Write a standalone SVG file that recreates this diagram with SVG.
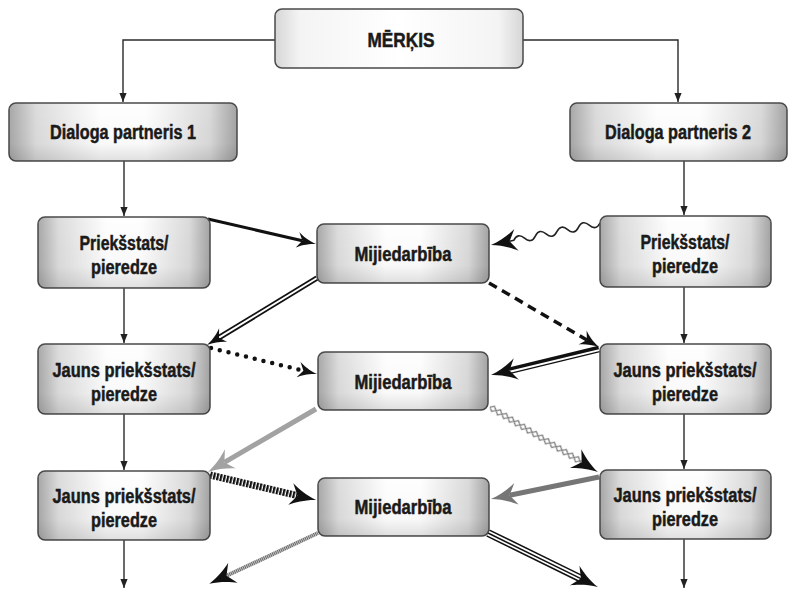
<svg xmlns="http://www.w3.org/2000/svg" width="794" height="589" viewBox="0 0 794 589">
  <defs>
    <linearGradient id="boxShade" x1="0" y1="0" x2="1" y2="0">
      <stop offset="0" stop-color="#a8a8a8"/>
      <stop offset="0.12" stop-color="#dcdcdc"/>
      <stop offset="0.4" stop-color="#fefefe"/>
      <stop offset="0.6" stop-color="#fefefe"/>
      <stop offset="0.88" stop-color="#dadada"/>
      <stop offset="1" stop-color="#a4a4a4"/>
    </linearGradient>
    <linearGradient id="boxDepth" x1="0" y1="0" x2="0" y2="1">
      <stop offset="0" stop-color="#000" stop-opacity="0"/>
      <stop offset="0.7" stop-color="#000" stop-opacity="0.02"/>
      <stop offset="1" stop-color="#000" stop-opacity="0.12"/>
    </linearGradient>
    <linearGradient id="goalShade" x1="0" y1="0" x2="1" y2="0">
      <stop offset="0" stop-color="#d6d6d6"/>
      <stop offset="0.1" stop-color="#f4f4f4"/>
      <stop offset="0.5" stop-color="#ffffff"/>
      <stop offset="0.9" stop-color="#f4f4f4"/>
      <stop offset="1" stop-color="#d6d6d6"/>
    </linearGradient>

    <!-- line textures -->
    <pattern id="lattice" width="7" height="8" y="-4" patternUnits="userSpaceOnUse">
      <path d="M0,4 L3.5,1 L7,4 L3.5,7 Z" fill="#fff" stroke="#7a7a7a" stroke-width="1.3"/>
    </pattern>
    <pattern id="hatch" width="3.4" height="8" patternUnits="userSpaceOnUse">
      <rect width="2.2" height="8" fill="#111"/>
    </pattern>
    <pattern id="fineHatch" width="1.9" height="6" patternUnits="userSpaceOnUse">
      <rect width="1.3" height="6" fill="#666"/>
    </pattern>

    <!-- arrowheads -->
    <marker id="barbS" markerUnits="userSpaceOnUse" orient="auto" refX="4" refY="0" markerWidth="30" markerHeight="30" overflow="visible">
      <path d="M18,0 C10,-1.5 3,-5 -1,-8 L4,0 L-1,8 C3,5 10,1.5 18,0 Z" fill="#111"/>
    </marker>
    <marker id="barbL" markerUnits="userSpaceOnUse" orient="auto" refX="5" refY="0" markerWidth="30" markerHeight="30" overflow="visible">
      <path d="M24,0 C14,-2 4,-7 -2,-11 L5,0 L-2,11 C4,7 14,2 24,0 Z" fill="#111"/>
    </marker>
    <marker id="barbGray" markerUnits="userSpaceOnUse" orient="auto" refX="5" refY="0" markerWidth="30" markerHeight="30" overflow="visible">
      <path d="M24,0 C14,-2 4,-7 -2,-11 L5,0 L-2,11 C4,7 14,2 24,0 Z" fill="#a2a2a2"/>
    </marker>
    <marker id="barbDark" markerUnits="userSpaceOnUse" orient="auto" refX="5" refY="0" markerWidth="30" markerHeight="30" overflow="visible">
      <path d="M24,0 C14,-2 4,-7 -2,-11 L5,0 L-2,11 C4,7 14,2 24,0 Z" fill="#767676"/>
    </marker>
    <marker id="tri" markerUnits="userSpaceOnUse" orient="auto" refX="0" refY="0" markerWidth="12" markerHeight="12" overflow="visible">
      <path d="M0,0 L-9,-3.6 L-9,3.6 Z" fill="#222"/>
    </marker>
  </defs>

  <style>
    .box { fill: url(#boxShade); stroke: #4a4a4a; stroke-width: 1.5; }
    .depth { fill: url(#boxDepth); stroke: none; }
    .goal { fill: url(#goalShade); stroke: #4a4a4a; stroke-width: 1.5; }
    .lbl { font-family: "Liberation Sans Narrow", "Liberation Sans", Arial, sans-serif; font-weight: bold; font-size: 20px; fill: #1a1a1a; stroke: #1a1a1a; stroke-width: 0.5; text-anchor: middle; }
    .flow { fill: none; stroke: #2a2a2a; stroke-width: 1.4; marker-end: url(#tri); }
    .tip { fill: none; stroke: none; }
  </style>

  <rect width="794" height="589" fill="#ffffff"/>

  <!-- connectors -->
  <g id="connectors">
    <!-- hierarchy / vertical flow -->
    <path class="flow" d="M275,40 H123 V102"/>
    <path class="flow" d="M523,40 H678 V102"/>
    <path class="flow" d="M124,161 V216"/>
    <path class="flow" d="M124,288 V343"/>
    <path class="flow" d="M124,414 V470"/>
    <path class="flow" d="M124,540 V588"/>
    <path class="flow" d="M684,161 V215"/>
    <path class="flow" d="M684,287 V343"/>
    <path class="flow" d="M684,414 V469"/>
    <path class="flow" d="M684,539 V588"/>

    <!-- 1: solid thick -->
    <path d="M208,219 L302.4,240.8" fill="none" stroke="#111" stroke-width="3" marker-end="url(#barbS)"/>

    <!-- 2: wavy -->
    <g transform="translate(600,223) rotate(168.59)">
      <path d="M0,0 q5.5,-7 11,0 t11,0 t11,0 t11,0 t11,0 t11,0 t11,0 t11,0 L92.2,0" fill="none" stroke="#222" stroke-width="1.6" marker-end="url(#barbL)"/>
    </g>

    <!-- 3: double line -->
    <path d="M317,278 L219,337.7" fill="none" stroke="#111" stroke-width="5.5"/>
    <path d="M317,278 L219,337.7" fill="none" stroke="#fff" stroke-width="2" marker-end="url(#barbS)"/>

    <!-- 4: dashed -->
    <path d="M489,283 L586.9,340" fill="none" stroke="#111" stroke-width="3.5" stroke-dasharray="9 6" marker-end="url(#barbS)"/>

    <!-- 5: dotted -->
    <path d="M211,348 L303.4,370.7" fill="none" stroke="#111" stroke-width="4.5" stroke-linecap="round" stroke-dasharray="0 9" marker-end="url(#barbS)"/>

    <!-- 6: thick + thin pair -->
    <path d="M598.6,347.5 L509.2,369.1" fill="none" stroke="#111" stroke-width="3.4"/>
    <path d="M599.7,351.7 L510.2,373.3" fill="none" stroke="#111" stroke-width="1.3"/>
    <path class="tip" d="M599,349 L509.5,370.6" marker-end="url(#barbL)"/>

    <!-- 7: light grey thick -->
    <path d="M316,409 L224.4,462.4" fill="none" stroke="#a2a2a2" stroke-width="5" marker-end="url(#barbGray)"/>

    <!-- 8: diamond chain -->
    <g transform="translate(490,407) rotate(31.04)">
      <rect x="0" y="-4" width="107" height="8" fill="url(#lattice)"/>
      <path class="tip" d="M0,0 H107" marker-end="url(#barbL)"/>
    </g>

    <!-- 9: black hatched band -->
    <g transform="translate(210,475) rotate(13.27)">
      <rect x="0" y="-3.5" width="90" height="7" fill="url(#hatch)"/>
      <path class="tip" d="M0,0 H90" marker-end="url(#barbL)"/>
    </g>

    <!-- 10: dark grey thick -->
    <path d="M599,477 L509.6,495.2" fill="none" stroke="#767676" stroke-width="5" marker-end="url(#barbDark)"/>

    <!-- 11: fine grey hatched -->
    <g transform="translate(318,533) rotate(154.93)">
      <rect x="0" y="-2" width="101" height="4" fill="url(#fineHatch)"/>
      <path class="tip" d="M0,0 H101" marker-end="url(#barbL)"/>
    </g>

    <!-- 12: triple line -->
    <path d="M488,533 L580.9,578.6" fill="none" stroke="#111" stroke-width="8"/>
    <path d="M488,533 L580.9,578.6" fill="none" stroke="#fff" stroke-width="5"/>
    <path d="M488,533 L580.9,578.6" fill="none" stroke="#111" stroke-width="1.5" marker-end="url(#barbL)"/>
  </g>

  <!-- nodes -->
  <g id="goal">
    <rect class="goal" x="275" y="9" width="248" height="59" rx="7"/>
    <text class="lbl" x="401" y="47" textLength="67" lengthAdjust="spacingAndGlyphs">MĒRĶIS</text>
  </g>

  <g id="partner1">
    <rect class="box" x="9" y="103" width="228" height="58" rx="7"/>
    <rect class="depth" x="9" y="103" width="228" height="58" rx="7"/>
    <text class="lbl" x="123" y="139" textLength="146" lengthAdjust="spacingAndGlyphs">Dialoga partneris 1</text>
  </g>

  <g id="partner2">
    <rect class="box" x="570" y="103" width="217" height="58" rx="7"/>
    <rect class="depth" x="570" y="103" width="217" height="58" rx="7"/>
    <text class="lbl" x="678" y="139" textLength="146" lengthAdjust="spacingAndGlyphs">Dialoga partneris 2</text>
  </g>

  <g id="view1">
    <rect class="box" x="38" y="217" width="172" height="71" rx="7"/>
    <rect class="depth" x="38" y="217" width="172" height="71" rx="7"/>
    <text class="lbl" x="124" y="250" textLength="89" lengthAdjust="spacingAndGlyphs">Priekšstats/</text>
    <text class="lbl" x="124" y="274" textLength="66" lengthAdjust="spacingAndGlyphs">pieredze</text>
  </g>

  <g id="view1b">
    <rect class="box" x="38" y="344" width="172" height="70" rx="7"/>
    <rect class="depth" x="38" y="344" width="172" height="70" rx="7"/>
    <text class="lbl" x="124" y="377" textLength="143" lengthAdjust="spacingAndGlyphs">Jauns priekšstats/</text>
    <text class="lbl" x="124" y="401" textLength="66" lengthAdjust="spacingAndGlyphs">pieredze</text>
  </g>

  <g id="view1c">
    <rect class="box" x="38" y="471" width="172" height="69" rx="7"/>
    <rect class="depth" x="38" y="471" width="172" height="69" rx="7"/>
    <text class="lbl" x="124" y="503" textLength="143" lengthAdjust="spacingAndGlyphs">Jauns priekšstats/</text>
    <text class="lbl" x="124" y="527" textLength="66" lengthAdjust="spacingAndGlyphs">pieredze</text>
  </g>

  <g id="view2">
    <rect class="box" x="600" y="216" width="171" height="71" rx="7"/>
    <rect class="depth" x="600" y="216" width="171" height="71" rx="7"/>
    <text class="lbl" x="685" y="249" textLength="89" lengthAdjust="spacingAndGlyphs">Priekšstats/</text>
    <text class="lbl" x="685" y="273" textLength="66" lengthAdjust="spacingAndGlyphs">pieredze</text>
  </g>

  <g id="view2b">
    <rect class="box" x="600" y="344" width="171" height="70" rx="7"/>
    <rect class="depth" x="600" y="344" width="171" height="70" rx="7"/>
    <text class="lbl" x="685" y="377" textLength="143" lengthAdjust="spacingAndGlyphs">Jauns priekšstats/</text>
    <text class="lbl" x="685" y="401" textLength="66" lengthAdjust="spacingAndGlyphs">pieredze</text>
  </g>

  <g id="view2c">
    <rect class="box" x="600" y="470" width="171" height="69" rx="7"/>
    <rect class="depth" x="600" y="470" width="171" height="69" rx="7"/>
    <text class="lbl" x="685" y="502" textLength="143" lengthAdjust="spacingAndGlyphs">Jauns priekšstats/</text>
    <text class="lbl" x="685" y="526" textLength="66" lengthAdjust="spacingAndGlyphs">pieredze</text>
  </g>

  <g id="interaction1">
    <rect class="box" x="317" y="224" width="172" height="59" rx="7"/>
    <rect class="depth" x="317" y="224" width="172" height="59" rx="7"/>
    <text class="lbl" x="403" y="261" textLength="97" lengthAdjust="spacingAndGlyphs">Mijiedarbība</text>
  </g>

  <g id="interaction2">
    <rect class="box" x="318" y="352" width="170" height="58" rx="7"/>
    <rect class="depth" x="318" y="352" width="170" height="58" rx="7"/>
    <text class="lbl" x="403" y="389" textLength="97" lengthAdjust="spacingAndGlyphs">Mijiedarbība</text>
  </g>

  <g id="interaction3">
    <rect class="box" x="318" y="478" width="171" height="58" rx="7"/>
    <rect class="depth" x="318" y="478" width="171" height="58" rx="7"/>
    <text class="lbl" x="403" y="514" textLength="97" lengthAdjust="spacingAndGlyphs">Mijiedarbība</text>
  </g>
</svg>
